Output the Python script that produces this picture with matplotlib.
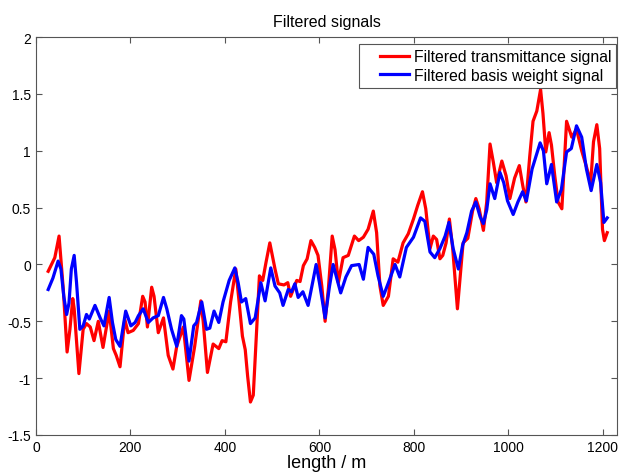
import matplotlib
matplotlib.use("Agg")
from matplotlib import pyplot as plt
from matplotlib.lines import Line2D
from matplotlib.legend_handler import HandlerLine2D

# values
red_x = [26, 40, 49, 58, 66, 72, 78, 81, 91, 100, 107, 115, 123, 132, 142, 155, 164, 170, 178,
         188, 195, 206, 217, 226, 231, 236, 245, 250, 259, 270, 280, 290, 298, 312, 324, 336,
         349, 354, 363, 375, 387, 394, 402, 412, 423, 430, 437, 443, 448, 454, 460, 466, 473,
         480, 487, 495, 506, 513, 525, 533, 539, 552, 559, 566, 574, 582, 590, 597, 605, 612,
         619, 627, 633, 640, 650, 661, 674, 683, 693, 703, 714, 721, 728, 735, 746, 756, 766,
         777, 788, 799, 808, 818, 825, 834, 841, 848, 855, 861, 868, 875, 882, 887, 892, 897,
         904, 914, 924, 931, 938, 947, 954, 961, 968, 975, 986, 995, 1003, 1013, 1023, 1030,
         1037, 1045, 1052, 1060, 1068, 1073, 1079, 1086, 1091, 1098, 1105, 1113, 1123, 1134,
         1144, 1155, 1165, 1174, 1180, 1187, 1193, 1199, 1203, 1209]
red_y = [-0.06, 0.06, 0.25, -0.22, -0.77, -0.57, -0.30, -0.39, -0.96, -0.57, -0.52, -0.55, -0.67,
         -0.50, -0.73, -0.41, -0.74, -0.80, -0.90, -0.48, -0.60, -0.58, -0.52, -0.28, -0.33,
         -0.55, -0.20, -0.28, -0.60, -0.47, -0.80, -0.92, -0.72, -0.55, -1.02, -0.72, -0.32,
         -0.50, -0.95, -0.70, -0.74, -0.67, -0.68, -0.33, -0.04, -0.33, -0.63, -0.75, -0.98,
         -1.21, -1.15, -0.66, -0.10, -0.14, 0.02, 0.19, -0.04, -0.17, -0.18, -0.16, -0.28,
         -0.14, -0.15, -0.01, 0.05, 0.21, 0.15, 0.08, -0.19, -0.50, -0.21, 0.25, 0.13, -0.16,
         0.06, 0.08, 0.25, 0.21, 0.24, 0.31, 0.47, 0.28, -0.19, -0.36, -0.28, 0.05, 0.02, 0.19,
         0.27, 0.40, 0.52, 0.64, 0.49, 0.14, 0.25, 0.22, 0.05, 0.08, 0.19, 0.40, 0.14, -0.12,
         -0.39, -0.15, 0.19, 0.23, 0.47, 0.58, 0.49, 0.30, 0.55, 1.06, 0.90, 0.72, 0.91, 0.78,
         0.58, 0.76, 0.87, 0.70, 0.55, 0.95, 1.26, 1.35, 1.54, 1.33, 0.99, 1.16, 1.05, 0.78,
         0.55, 0.49, 1.26, 1.12, 1.19, 1.00, 0.86, 0.72, 1.08, 1.23, 1.02, 0.31, 0.21, 0.28]

blue_x = [26, 36, 47, 53, 59, 65, 70, 75, 81, 86, 93, 100, 107, 113, 125, 136, 144, 155, 162,
          169, 178, 190, 201, 210, 217, 227, 238, 248, 259, 270, 277, 287, 298, 308, 313, 324,
          334, 340, 351, 361, 368, 377, 387, 396, 409, 421, 428, 435, 444, 454, 464, 476, 485,
          497, 506, 516, 523, 534, 541, 548, 555, 565, 576, 586, 593, 600, 612, 621, 629, 636,
          645, 656, 668, 684, 693, 703, 715, 724, 735, 746, 760, 770, 784, 799, 814, 823, 834,
          844, 855, 866, 874, 883, 894, 903, 912, 922, 931, 940, 947, 954, 961, 971, 982, 990,
          998, 1010, 1020, 1030, 1038, 1050, 1067, 1074, 1081, 1091, 1102, 1112, 1123, 1133,
          1144, 1155, 1165, 1175, 1187, 1195, 1202, 1209]
blue_y = [-0.22, -0.12, 0.03, -0.04, -0.28, -0.44, -0.34, -0.04, 0.08, -0.16, -0.57, -0.54,
          -0.44, -0.48, -0.36, -0.47, -0.54, -0.29, -0.51, -0.66, -0.72, -0.41, -0.54, -0.51,
          -0.45, -0.39, -0.51, -0.47, -0.45, -0.29, -0.39, -0.57, -0.72, -0.45, -0.48, -0.85,
          -0.54, -0.51, -0.33, -0.57, -0.56, -0.41, -0.51, -0.33, -0.14, -0.03, -0.16, -0.33,
          -0.30, -0.52, -0.47, -0.16, -0.32, -0.03, -0.19, -0.25, -0.36, -0.22, -0.24, -0.17,
          -0.29, -0.24, -0.36, -0.15, 0.00, -0.16, -0.47, -0.20, 0.00, -0.11, -0.25, -0.11,
          -0.01, 0.00, -0.13, 0.15, 0.09, -0.10, -0.28, -0.16, 0.00, -0.11, 0.15, 0.24, 0.41,
          0.38, 0.11, 0.06, 0.14, 0.25, 0.37, 0.14, -0.04, 0.17, 0.28, 0.47, 0.55, 0.42, 0.36,
          0.48, 0.71, 0.58, 0.81, 0.72, 0.56, 0.44, 0.55, 0.64, 0.56, 0.84, 1.07, 1.00, 0.71,
          0.88, 0.55, 0.66, 0.99, 1.02, 1.22, 1.12, 0.84, 0.65, 0.88, 0.72, 0.37, 0.41]

x_ticks = [0, 200, 400, 600, 800, 1000, 1200]
y_ticks = [-1.5, -1, -0.5, 0, 0.5, 1, 1.5, 2]
y_labels = ['-1.5', '-1', '-0.5', '0', '0.5', '1', '1.5', '2']

plt.rcParams['font.family'] = ['Liberation Sans', 'DejaVu Sans']

fig = plt.figure(figsize=(6.19, 4.77), dpi=100)
ax = fig.add_axes([0.058, 0.086, 0.939, 0.834])

ax.plot(red_x, red_y, color='#ff0000', lw=2.3, solid_joinstyle='round',
        label='Filtered transmittance signal')
ax.plot(blue_x, blue_y, color='#0000ff', lw=2.3, solid_joinstyle='round',
        label='Filtered basis weight signal')

ax.set_xlim(0, 1230)
ax.set_ylim(-1.5, 2)
ax.set_xticks(x_ticks)
ax.set_yticks(y_ticks)
ax.set_yticklabels(y_labels)
ax.tick_params(direction='in', length=4, labelsize=10, color='#555555', top=True, right=True,
               labeltop=False, labelright=False)
for s in ax.spines.values():
    s.set_color('#555555')
    s.set_linewidth(0.8)

ax.set_title('Filtered signals', fontsize=11.5, pad=8)
ax.set_xlabel('length / m', fontsize=13, labelpad=0)

# matlab-style legend: extra room left of the line sample
leg = ax.legend(loc='upper right', bbox_to_anchor=(0.998, 0.982), borderaxespad=0,
                fontsize=11.3, fancybox=False, framealpha=1, handlelength=2.9,
                handletextpad=0.3, labelspacing=0.25, borderpad=0.3,
                handler_map={Line2D: HandlerLine2D(xpad=1.05)})
leg.get_frame().set_edgecolor('#555555')
leg.get_frame().set_linewidth(0.8)

fig.savefig('out.png', dpi=100)
